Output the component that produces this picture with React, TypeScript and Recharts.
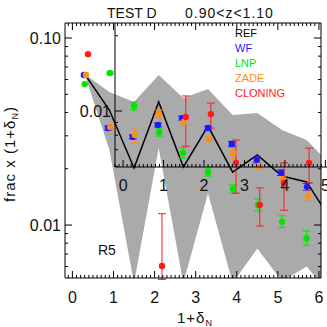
import React from 'react';
import { ComposedChart, Area, Line, Scatter, ErrorBar, XAxis, YAxis, ReferenceLine } from 'recharts';

const W = 327;
const H = 327;
// main plot box (page px)
const LEFT = 65;
const TOP = 23;
const RIGHT = 321;
const BOTTOM = 278;
const PW = RIGHT - LEFT;
const PH = BOTTOM - TOP;
// inset frame that got drawn over the panel
const INSET_LEFT = 115;
const INSET_BOTTOM = 167;

const FONT = '"Liberation Sans", Arial, sans-serif';

// bins in 1+delta_N
const binX = [0.3, 0.9, 1.5, 2.1, 2.7, 3.3, 3.9, 4.5, 5.1, 5.7, 6.3];
const refFrac = [0.0641, 0.0412, 0.0202, 0.0455, 0.0204, 0.0338, 0.0192, 0.0237, 0.0183, 0.017, 0.0106];
const bandHigh = [0.0641, 0.0514, 0.0455, 0.0634, 0.0478, 0.0534, 0.0388, 0.0397, 0.0322, 0.0285, 0.0209];
const bandLow = [0.0641, 0.0252, 0.0049, 0.0258, 0.0049, 0.0148, 0.0049, 0.0075, 0.005, 0.006, 0.0042];

const wfX = [0.28, 0.87, 1.47, 2.08, 2.67, 3.3, 3.88, 4.49, 5.08, 5.71];
const wfY = [0.0634, 0.033, 0.0296, 0.0343, 0.0373, 0.033, 0.0271, 0.0223, 0.019, 0.016];
const wfLo = [0.0634, 0.0322, 0.0289, 0.0335, 0.0364, 0.0322, 0.0262, 0.0215, 0.0184, 0.0153];
const wfHi = [0.0634, 0.0338, 0.0303, 0.0351, 0.0382, 0.0338, 0.028, 0.0231, 0.0197, 0.0167];

const lnpX = [0.3, 0.915, 1.5, 2.11, 2.69, 3.3, 3.91, 4.52, 5.1, 5.7];
const lnpY = [0.0567, 0.065, 0.0433, 0.0314, 0.0243, 0.0192, 0.0156, 0.0128, 0.0104, 0.0085];
const lnpLo = [0.0567, 0.0642, 0.0412, 0.0299, 0.0228, 0.0183, 0.0148, 0.0119, 0.0097, 0.0078];
const lnpHi = [0.0567, 0.0658, 0.0455, 0.033, 0.0259, 0.0202, 0.0164, 0.0138, 0.0112, 0.0093];

const zadeX = [0.33, 0.92, 1.52, 2.11, 2.71, 3.32, 3.91, 4.52, 5.12, 5.73];
const zadeY = [0.0634, 0.0334, 0.0303, 0.0392, 0.0356, 0.0288, 0.0243, 0.0207, 0.0176, 0.0143];
const zadeLo = [0.0634, 0.0328, 0.0275, 0.0373, 0.0348, 0.0281, 0.0228, 0.02, 0.017, 0.0134];
const zadeHi = [0.0634, 0.034, 0.0331, 0.0412, 0.0364, 0.0295, 0.0259, 0.0215, 0.0183, 0.0152];

const cloX = [0.38, 2.18, 2.76, 3.37, 3.98, 4.56, 5.15, 5.76];
const cloY = [0.082, 0.00604, 0.0378, 0.0392, 0.0215, 0.0128, 0.0168, 0.0215];
const cloLo = [0.082, 0.00512, 0.0264, 0.033, 0.0148, 0.00988, 0.012, 0.0168];
const cloHi = [0.082, 0.0115, 0.049, 0.0449, 0.0285, 0.0158, 0.0215, 0.0258];

const xMajor = [0, 1, 2, 3, 4, 5, 6];
const insetXMajor = [0, 1, 2, 3, 4, 5];
const yMajor = [0.01, 0.1];

const X_DOMAIN: [number, number] = [-0.18, 6.05];
const Y_DOMAIN: [number, number] = [0.00521, 0.1203];
const INSET_X_DOMAIN: [number, number] = [-0.2, 5.04];
const INSET_Y_DOMAIN: [number, number] = [0.00597, 0.0225];

const minorTicks = (lo: number, hi: number) => {
  const out: number[] = [];
  for (let k = Math.ceil(lo * 10); k <= Math.floor(hi * 10); k++) out.push(Math.round(k) / 10);
  return out;
};
const logTicks = (lo: number, hi: number) => {
  const out: number[] = [];
  for (const d of [0.001, 0.01, 0.1]) {
    for (let m = 1; m < 10; m++) {
      const v = parseFloat((m * d).toPrecision(3));
      if (v >= lo && v <= hi) out.push(v);
    }
  }
  return out;
};

const bandData = binX.map((x, i) => ({ x, ref: refFrac[i], band: [bandLow[i], bandHigh[i]] }));
const pts = (xs: number[], ys: number[], lo: number[], hi: number[]) =>
  xs.map((x, i) => ({
    x,
    y: ys[i],
    err: hi[i] > lo[i] ? [ys[i] - lo[i], hi[i] - ys[i]] : undefined,
  }));

const series = [
  { name: 'WF', color: '#1a1aff', data: pts(wfX, wfY, wfLo, wfHi) },
  { name: 'LNP', color: '#00e600', data: pts(lnpX, lnpY, lnpLo, lnpHi) },
  { name: 'ZADE', color: '#ff8c1a', data: pts(zadeX, zadeY, zadeLo, zadeHi) },
  { name: 'CLONING', color: '#ff1a1a', data: pts(cloX, cloY, cloLo, cloHi) },
];
const legendItems = [{ name: 'REF', color: '#000' }, ...series];

function MainXTick(props: any) {
  const { x, y, payload } = props;
  const v = payload.value;
  const major = xMajor.includes(v);
  const len = major ? 7 : 3;
  return (
    <g>
      <line x1={x} x2={x} y1={y} y2={y - len} stroke="#000" />
      <line x1={x} x2={x} y1={y - PH} y2={y - PH + len} stroke="#000" />
      {major && (
        <text x={x} y={y + 25} textAnchor="middle" fontSize={16} fontFamily={FONT} fill="#111">
          {v}
        </text>
      )}
    </g>
  );
}

function MainYTick(props: any) {
  const { x, y, payload } = props;
  const v = payload.value;
  const major = yMajor.includes(v);
  const len = major ? 7 : 3;
  return (
    <g>
      <line x1={x} x2={x + len} y1={y} y2={y} stroke="#000" />
      <line x1={x + PW} x2={x + PW - len} y1={y} y2={y} stroke="#000" />
      {major && (
        <text x={x - 4} y={y + 6} textAnchor="end" fontSize={16} fontFamily={FONT} fill="#111">
          {v.toFixed(2)}
        </text>
      )}
    </g>
  );
}

function InsetXTick(props: any) {
  const { x, y, payload } = props;
  const v = payload.value;
  const major = insetXMajor.includes(v);
  return (
    <g>
      <line x1={x} x2={x} y1={y} y2={y - (major ? 7 : 3)} stroke="#000" />
      {major && (
        <text x={x} y={y + 24} textAnchor="middle" fontSize={16} fontFamily={FONT} fill="#111">
          {v}
        </text>
      )}
    </g>
  );
}

function InsetYTick(props: any) {
  const { x, y, payload } = props;
  const v = payload.value;
  const major = v === 0.01;
  return (
    <g>
      <line x1={x} x2={x + (major ? 7 : 3)} y1={y} y2={y} stroke="#000" />
      {major && (
        <text x={x - 4} y={y + 6} textAnchor="end" fontSize={16} fontFamily={FONT} fill="#111">
          {v.toFixed(2)}
        </text>
      )}
    </g>
  );
}

export default function App() {
  return (
    <div style={{ position: 'absolute', left: 0, top: 0, width: W, height: H, background: '#fff' }}>
      <ComposedChart
        width={W}
        height={H}
        data={bandData}
        margin={{ top: TOP, right: W - RIGHT, bottom: H - BOTTOM - 30, left: LEFT - 50 }}
      >
        <XAxis
          type="number"
          dataKey="x"
          domain={X_DOMAIN}
          allowDataOverflow
          ticks={minorTicks(X_DOMAIN[0], X_DOMAIN[1])}
          interval={0}
          tick={<MainXTick />}
          tickLine={false}
          tickSize={0}
          tickMargin={0}
          height={30}
          axisLine={{ stroke: '#000' }}
        />
        <YAxis
          type="number"
          scale="log"
          domain={Y_DOMAIN}
          allowDataOverflow
          ticks={logTicks(Y_DOMAIN[0], Y_DOMAIN[1])}
          interval={0}
          tick={<MainYTick />}
          tickLine={false}
          tickSize={0}
          tickMargin={0}
          width={50}
          axisLine={{ stroke: '#000' }}
        />
        <Area
          dataKey="band"
          type="linear"
          fill="#aaaaaa"
          fillOpacity={1}
          stroke="none"
          legendType="none"
          isAnimationActive={false}
        />
        <Line
          dataKey="ref"
          name="REF"
          type="linear"
          stroke="#000"
          strokeWidth={1.5}
          dot={false}
          isAnimationActive={false}
        />
        {series.map((s) => (
          <Scatter
            key={s.name}
            name={s.name}
            data={s.data}
            dataKey="y"
            fill={s.color}
            isAnimationActive={false}
            shape={(p: any) => <circle cx={p.cx} cy={p.cy} r={3.2} fill={s.color} />}
          >
            <ErrorBar dataKey="err" direction="y" width={4} stroke={s.color} strokeWidth={1} />
          </Scatter>
        ))}
        <ReferenceLine y={Y_DOMAIN[1]} stroke="#000" ifOverflow="visible" />
        <ReferenceLine x={X_DOMAIN[1]} stroke="#000" ifOverflow="visible" />
      </ComposedChart>

      <div style={{ position: 'absolute', left: 0, top: 0, pointerEvents: 'none' }}>
        <ComposedChart
          width={W}
          height={H}
          data={bandData}
          margin={{ top: TOP, right: 0, bottom: H - INSET_BOTTOM - 30, left: INSET_LEFT - 50 }}
        >
          <XAxis
            type="number"
            dataKey="x"
            domain={INSET_X_DOMAIN}
            allowDataOverflow
            ticks={minorTicks(INSET_X_DOMAIN[0], INSET_X_DOMAIN[1])}
            interval={0}
            tick={<InsetXTick />}
            tickLine={false}
            tickSize={0}
            tickMargin={0}
            height={30}
            axisLine={{ stroke: '#000' }}
          />
          <YAxis
            type="number"
            scale="log"
            domain={INSET_Y_DOMAIN}
            allowDataOverflow
            ticks={logTicks(INSET_Y_DOMAIN[0], INSET_Y_DOMAIN[1])}
            interval={0}
            tick={<InsetYTick />}
            tickLine={false}
            tickSize={0}
            tickMargin={0}
            width={50}
            axisLine={{ stroke: '#000' }}
          />
        </ComposedChart>
      </div>

      <div
        style={{
          position: 'absolute',
          left: 235,
          top: 26,
          fontFamily: FONT,
          fontSize: 11,
          lineHeight: '15px',
          pointerEvents: 'none',
        }}
      >
        {legendItems.map((s) => (
          <div key={s.name} style={{ color: s.color }}>
            {s.name}
          </div>
        ))}
      </div>

      <svg
        width={W}
        height={H}
        style={{ position: 'absolute', left: 0, top: 0, pointerEvents: 'none' }}
        fontFamily={FONT}
      >
        <text x={107} y={18} fontSize={14} fill="#111">TEST D</text>
        <text x={185} y={18} fontSize={14} letterSpacing={1} fill="#111">0.90&lt;z&lt;1.10</text>
        <text x={98} y={255} fontSize={14} fill="#111">R5</text>
        <text x={195} y={323} fontSize={15} textAnchor="middle" letterSpacing={1} fill="#111">
          1+δ<tspan fontSize={9} dy={3}>N</tspan>
        </text>
        <text
          transform="translate(15,154) rotate(-90)"
          fontSize={15}
          textAnchor="middle"
          letterSpacing={1}
          fill="#111"
        >
          frac x (1+δ<tspan fontSize={9} dy={3}>N</tspan><tspan dy={-3}>)</tspan>
        </text>
      </svg>
    </div>
  );
}
